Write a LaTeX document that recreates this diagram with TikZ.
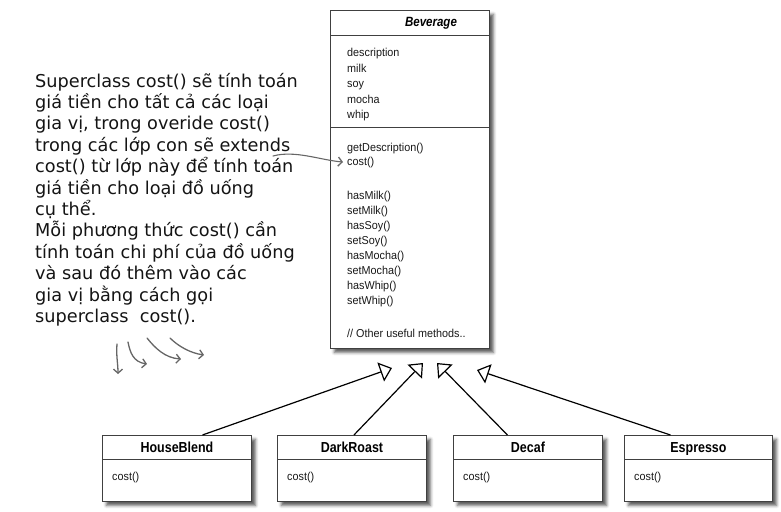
\documentclass[tikz,border=0pt]{standalone}
\usepackage{fontspec}
\setmainfont{Liberation Sans}
\newfontfamily\umlfont[FakeStretch=0.94]{Liberation Sans}
\newfontfamily\umltitle[FakeStretch=0.86]{Liberation Sans}
\newfontfamily\notefont{DejaVu Sans}
\usetikzlibrary{arrows.meta,shadows.blur}
\begin{document}
\begin{tikzpicture}[x=1pt,y=-1pt,
  box/.style={draw=black!75, line width=0.9pt, fill=white, anchor=north west, inner sep=0pt,
    blur shadow={shadow xshift=4pt, shadow yshift=-4pt, shadow blur radius=3pt, shadow opacity=65}},
  subcls/.style={box, minimum width=149pt, minimum height=66pt},
  sepline/.style={draw=black!75, line width=0.9pt},
  ctitle/.style={font=\umltitle\fontsize{14.5}{16}\selectfont\bfseries, text=black, inner sep=0pt, anchor=base},
  meth/.style={font=\umlfont\fontsize{11.5}{13}\selectfont, text=black!90, inner sep=0pt, anchor=base west},
  notetext/.style={font=\notefont\fontsize{17.7}{21.4}\selectfont, text=black!92, inner sep=0pt, anchor=base west},
  gen/.style={draw=black, line width=1.2pt, -{Triangle[open, length=12pt, width=20pt, line width=1.2pt]}},
  scribble/.style={draw=black!60, line width=1.3pt, line cap=round, line join=round,
    -{Straight Barb[length=4pt, width=9pt, line width=1.3pt]}}
]
\useasboundingbox (0,0) rectangle (781,511);

% ---------- Beverage ----------
\node[box, minimum width=159pt, minimum height=338pt] (bev) at (330,10) {};
\draw[sepline] ([yshift=-25pt]bev.north west) -- ([yshift=-25pt]bev.north east);
\draw[sepline] ([yshift=-117pt]bev.north west) -- ([yshift=-117pt]bev.north east);
\node[font=\umltitle\fontsize{13.4}{15}\selectfont\bfseries\itshape, text=black, inner sep=0pt, anchor=base] (bevt) at (431,27) {Beverage};

\node[meth] (a1) at (347,56.5) {description};
\node[meth] (a2) at (347,72) {milk};
\node[meth] (a3) at (347,87.5) {soy};
\node[meth] (a4) at (347,103) {mocha};
\node[meth] (a5) at (347,118.5) {whip};

\node[meth] (m1) at (347,151) {getDescription()};
\node[meth] (mcost) at (347,165) {cost()};
\node[meth] (m3) at (347,199) {hasMilk()};
\node[meth] (m4) at (347,214) {setMilk()};
\node[meth] (m5) at (347,229) {hasSoy()};
\node[meth] (m6) at (347,244) {setSoy()};
\node[meth] (m7) at (347,259) {hasMocha()};
\node[meth] (m8) at (347,274) {setMocha()};
\node[meth] (m9) at (347,289) {hasWhip()};
\node[meth] (m10) at (347,304) {setWhip()};
\node[meth] (m11) at (347,337) {// Other useful methods..};

% ---------- Subclasses ----------
\node[subcls] (hb) at (102,435) {};
\node[subcls] (dr) at (277,435) {};
\node[subcls] (dc) at (453,435) {};
\node[subcls, minimum width=148pt] (es) at (624,435) {};

\foreach \n/\t in {hb/HouseBlend, dr/DarkRoast, dc/Decaf, es/Espresso}{
  \draw[sepline] ([yshift=-24pt]\n.north west) -- ([yshift=-24pt]\n.north east);
  \node[ctitle] (\n t) at ([yshift=-17pt]\n.north) {\t};
  \node[meth] (\n c) at ([xshift=10pt, yshift=-45pt]\n.north west) {cost()};
}

% ---------- Generalisation arrows ----------
\coordinate (t1) at (392,368);
\coordinate (t2) at (423,363);
\coordinate (t3) at (437,363);
\coordinate (t4) at (477,370);
\draw[gen] ([xshift=25.5pt]hb.north) -- (t1);
\draw[gen] ([xshift=2pt]dr.north) -- (t2);
\draw[gen] ([xshift=-20.5pt]dc.north) -- (t3);
\draw[gen] ([xshift=-28pt]es.north) -- (t4);

% ---------- Note text ----------
\node[notetext] (n1) at (35,87) {Superclass cost() sẽ tính toán};
\node[notetext] (n2) at (35,108.4) {giá tiền cho tất cả các loại};
\node[notetext] (n3) at (35,129.8) {gia vị, trong overide cost()};
\node[notetext] (n4) at (35,151.2) {trong các lớp con sẽ extends};
\node[notetext] (n5) at (35,172.6) {cost() từ lớp này để tính toán};
\node[notetext] (n6) at (35,194) {giá tiền cho loại đồ uống};
\node[notetext] (n7) at (35,215.4) {cụ thể.};
\node[notetext] (n8) at (35,236.8) {Mỗi phương thức cost() cần};
\node[notetext] (n9) at (35,258.2) {tính toán chi phí của đồ uống};
\node[notetext] (n10) at (35,279.6) {và sau đó thêm vào các};
\node[notetext] (n11) at (35,301) {gia vị bằng cách gọi};
\node[notetext] (n12) at (35,322.4) {superclass\ \ cost().};

% ---------- gray pointer to cost() ----------
\coordinate (ext) at (273,156);
\draw[scribble, line width=1.1pt] (ext) .. controls (295,150) and (320,160) .. ([xshift=-4pt]mcost.west);

% ---------- hand-drawn arrows ----------
\draw[scribble] (117,344) .. controls (116,355) and (118,364) .. (118,374);
\draw[scribble] (128,342) .. controls (130,352) and (133,362) .. (147,364);
\draw[scribble] (147,338) .. controls (155,348) and (165,358) .. (181,359);
\draw[scribble] (170,338) .. controls (178,346) and (190,353) .. (204,355);
\end{tikzpicture}
\end{document}
